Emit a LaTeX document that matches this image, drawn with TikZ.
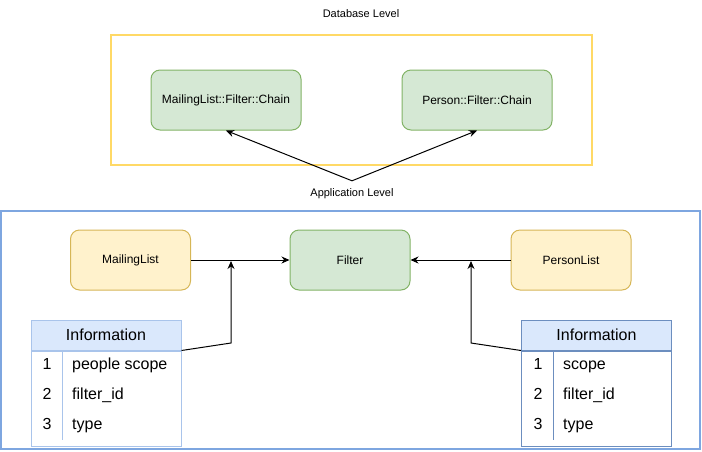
\documentclass[tikz,border=0pt]{standalone}
\usepackage{fontspec}
\setmainfont{Liberation Sans}
\usetikzlibrary{arrows.meta,positioning}

\definecolor{grnfill}{HTML}{D5E8D4}
\definecolor{grndraw}{HTML}{82B366}
\definecolor{ylwfill}{HTML}{FFF2CC}
\definecolor{ylwdraw}{HTML}{D6B656}
\definecolor{dbline}{HTML}{FFD966}
\definecolor{appline}{HTML}{7EA6E0}
\definecolor{tblfill}{HTML}{DAE8FC}
\definecolor{tbldraw}{HTML}{6C8EBF}
\definecolor{tbllight}{HTML}{A9C4EB}

\begin{document}
\begin{tikzpicture}[x=1pt, y=-1pt, >={Stealth[length=8pt,width=7pt]},
  every node/.style={font=\fontsize{12}{14}\selectfont},
  greenbox/.style={draw=grndraw, fill=grnfill, rounded corners=9pt, line width=1pt,
    minimum height=60pt},
  yellowbox/.style={draw=ylwdraw, fill=ylwfill, rounded corners=9pt, line width=1pt,
    minimum width=120pt, minimum height=60pt},
  caption/.style={font=\fontsize{11}{13}\selectfont, inner sep=0pt,
    text height=8pt, text depth=2.5pt},
  tblhead/.style={draw=#1, fill=tblfill, line width=1pt, minimum width=150pt,
    minimum height=30pt, font=\fontsize{16}{19}\selectfont},
  tblbody/.style={draw=#1, line width=1pt, minimum width=150pt, minimum height=95pt},
  cell/.style={font=\fontsize{16}{19}\selectfont, inner sep=0pt,
    text height=11.5pt, text depth=3.5pt},
  link/.style={->, line width=1pt}]
  \useasboundingbox (0,0) rectangle (702,451);

  % Database level
  \node[draw=dbline, line width=2pt, minimum width=481pt, minimum height=130pt]
        (dbarea) at (351.5,100) {};
  \node[caption] (dblabel) at (361,15) {Database Level};
  \node[greenbox, minimum width=150pt] (mlchain) at (226,100) {MailingList::Filter::Chain};
  \node[greenbox, minimum width=150pt] (pchain) at (477,100) {Person::Filter::Chain};

  % Application level
  \node[caption, minimum height=26pt] (applabel) at (352,194) {Application Level};
  \draw[link] (applabel.north) -- (mlchain.south);
  \draw[link] (applabel.north) -- (pchain.south);

  \node[draw=appline, line width=2pt, minimum width=699pt, minimum height=238pt]
        (apparea) at (350.5,330) {};

  \node[yellowbox] (mlist) at (130.5,260) {MailingList};
  \node[greenbox, minimum width=120pt] (filter) at (350,260) {Filter};
  \node[yellowbox] (plist) at (571,260) {PersonList};
  \draw[link] (mlist) -- (filter);
  \draw[link] (plist) -- (filter);

  % Information tables
  \node[tblhead=tbllight] (infoL) at (106,335) {Information};
  \node[tblbody=tbllight, below=0pt of infoL] (infoLbody) {};
  \draw[tbllight, line width=1pt] ([xshift=32pt]infoLbody.north west) -- ++(0,89);
  \foreach \n/\txt in {1/people scope, 2/filter\_id, 3/type} {
    \node[cell] (infoLk\n) at (47,335+30*\n) {\n};
    \node[cell, anchor=west] (infoLv\n) at (72,335+30*\n) {\txt};
  }

  \node[tblhead=tbldraw] (infoR) at (596.5,335) {Information};
  \node[tblbody=tbldraw, below=0pt of infoR] (infoRbody) {};
  \draw[tbldraw, line width=1pt] ([xshift=32.5pt]infoRbody.north west) -- ++(0,89);
  \foreach \n/\txt in {1/scope, 2/filter\_id, 3/type} {
    \node[cell] (infoRk\n) at (538,335+30*\n) {\n};
    \node[cell, anchor=west] (infoRv\n) at (563,335+30*\n) {\txt};
  }

  % Connectors from the tables
  \coordinate (mlbend) at (231,343);
  \coordinate (mljoin) at (231,261);
  \coordinate (pbend) at (471,343);
  \coordinate (pjoin) at (471,261);
  \draw[link] (infoL.south east) -- (mlbend) -- (mljoin);
  \draw[link] (infoR.south west) -- (pbend) -- (pjoin);
\end{tikzpicture}
\end{document}
